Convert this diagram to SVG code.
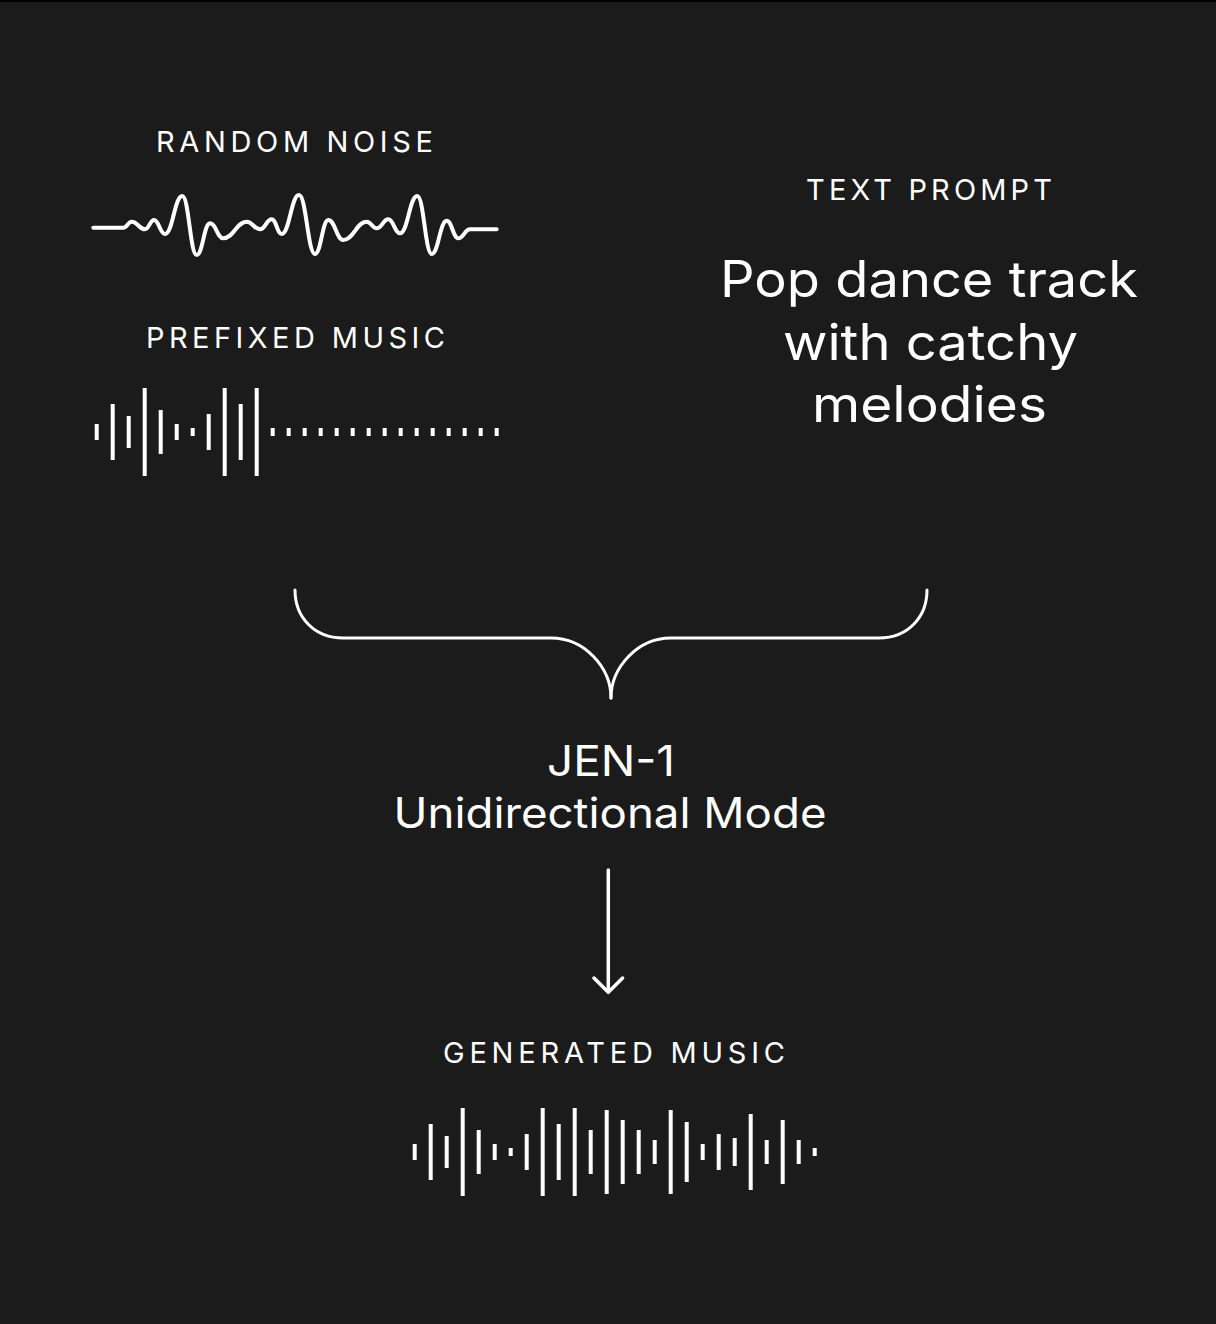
<svg xmlns="http://www.w3.org/2000/svg" width="1216" height="1324" viewBox="0 0 1216 1324">
<style>
.lbl{font-family:Inter,"Liberation Sans",sans-serif;font-size:29px;fill:#fff;text-anchor:middle}
.big{font-family:Inter,"Liberation Sans",sans-serif;font-size:50px;fill:#fff;text-anchor:middle}
.mid{font-family:Inter,"Liberation Sans",sans-serif;font-size:42px;fill:#fff;text-anchor:middle}
.ln{fill:none;stroke:#fff;stroke-linecap:round;stroke-linejoin:round}
.bar{fill:#fff}
</style>
<rect x="0" y="0" width="1216" height="1324" fill="#1b1b1b"/>
<rect x="0" y="0" width="1216" height="2" fill="#000"/>

<g id="random-noise">
<text class="lbl" x="294.5" y="151.5" textLength="277" lengthAdjust="spacing">RANDOM NOISE</text>
<path class="ln" stroke-width="4" d="M93.3 227.7 L123.3 227.7 C127.1 227.7 127.9 221.7 131.7 221.7 C137.7 221.7 139 229.3 145 229.3 C149 229.3 150 220 154 220 C159 220 160 234 165 234 C172.8 234 174.5 196 182.3 196 C188.8 196 190.2 255 196.7 255 C202.7 255 204 223.3 210 223.3 C216 223.3 217.3 238.3 223.3 238.3 C233.8 238.3 236.2 221.7 246.7 221.7 C252.7 221.7 254 229.3 260 229.3 C265.3 229.3 266.4 219.3 271.7 219.3 C276.2 219.3 277.2 234 281.7 234 C289.5 234 291.2 195 299 195 C306.2 195 307.8 254 315 254 C321 254 322.3 220 328.3 220 C335.1 220 336.5 240 343.3 240 C353.8 240 356.2 221.7 366.7 221.7 C371.2 221.7 372.2 228.3 376.7 228.3 C381.9 228.3 383.1 219.3 388.3 219.3 C393.6 219.3 394.7 233.3 400 233.3 C407.8 233.3 409.5 196 417.3 196 C423.8 196 425.2 254 431.7 254 C438.5 254 439.9 220.7 446.7 220.7 C451.9 220.7 453.1 238.3 458.3 238.3 C463.6 238.3 464.7 229.3 470 229.3 L496.7 229.3"/>
</g>

<g id="prefixed-music">
<text class="lbl" x="295.5" y="348" textLength="299" lengthAdjust="spacing">PREFIXED MUSIC</text>
<g class="bar">
<rect x="94.7" y="424" width="4" height="16"/>
<rect x="110.7" y="404" width="4" height="56"/>
<rect x="126.7" y="416" width="4" height="32"/>
<rect x="142.7" y="388" width="4" height="88"/>
<rect x="158.7" y="410" width="4" height="44"/>
<rect x="174.7" y="424" width="4" height="16"/>
<rect x="190.7" y="428" width="4" height="8"/>
<rect x="206.7" y="414" width="4" height="36"/>
<rect x="222.7" y="388" width="4" height="88"/>
<rect x="238.7" y="404" width="4" height="56"/>
<rect x="254.7" y="388" width="4" height="88"/>
<rect x="270.7" y="428" width="4" height="8"/>
<rect x="286.7" y="428" width="4" height="8"/>
<rect x="302.7" y="428" width="4" height="8"/>
<rect x="318.7" y="428" width="4" height="8"/>
<rect x="334.7" y="428" width="4" height="8"/>
<rect x="350.7" y="428" width="4" height="8"/>
<rect x="366.7" y="428" width="4" height="8"/>
<rect x="382.7" y="428" width="4" height="8"/>
<rect x="398.7" y="428" width="4" height="8"/>
<rect x="414.7" y="428" width="4" height="8"/>
<rect x="430.7" y="428" width="4" height="8"/>
<rect x="446.7" y="428" width="4" height="8"/>
<rect x="462.7" y="428" width="4" height="8"/>
<rect x="478.7" y="428" width="4" height="8"/>
<rect x="494.7" y="428" width="4" height="8"/>
</g>
</g>

<g id="text-prompt">
<text class="lbl" x="929" y="200" textLength="246" lengthAdjust="spacing">TEXT PROMPT</text>
<text class="big" x="929" y="297" textLength="418" lengthAdjust="spacingAndGlyphs">Pop dance track</text>
<text class="big" x="930.5" y="359.5" textLength="295" lengthAdjust="spacingAndGlyphs">with catchy</text>
<text class="big" x="929.5" y="422" textLength="235" lengthAdjust="spacingAndGlyphs">melodies</text>
</g>

<g id="jen1">
<text class="mid" x="611" y="776" textLength="128" lengthAdjust="spacingAndGlyphs">JEN-1</text>
<text class="mid" x="610" y="828" textLength="433" lengthAdjust="spacingAndGlyphs">Unidirectional Mode</text>
</g>

<g id="generated-music">
<text class="lbl" x="614" y="1063" textLength="342" lengthAdjust="spacing">GENERATED MUSIC</text>
<g class="bar">
<rect x="412.7" y="1144" width="4" height="16"/>
<rect x="428.7" y="1124" width="4" height="56"/>
<rect x="444.7" y="1136" width="4" height="32"/>
<rect x="460.7" y="1108" width="4" height="88"/>
<rect x="476.7" y="1130" width="4" height="44"/>
<rect x="492.7" y="1144" width="4" height="16"/>
<rect x="508.7" y="1148" width="4" height="8"/>
<rect x="524.7" y="1134" width="4" height="36"/>
<rect x="540.7" y="1108" width="4" height="88"/>
<rect x="556.7" y="1124" width="4" height="56"/>
<rect x="572.7" y="1108" width="4" height="88"/>
<rect x="588.7" y="1130" width="4" height="44"/>
<rect x="604.7" y="1110" width="4" height="84"/>
<rect x="620.7" y="1120" width="4" height="64"/>
<rect x="636.7" y="1130" width="4" height="44"/>
<rect x="652.7" y="1140" width="4" height="24"/>
<rect x="668.7" y="1110" width="4" height="84"/>
<rect x="684.7" y="1122" width="4" height="60"/>
<rect x="700.7" y="1144" width="4" height="16"/>
<rect x="716.7" y="1134" width="4" height="36"/>
<rect x="732.7" y="1138" width="4" height="28"/>
<rect x="748.7" y="1114" width="4" height="76"/>
<rect x="764.7" y="1140" width="4" height="24"/>
<rect x="780.7" y="1120" width="4" height="64"/>
<rect x="796.7" y="1140" width="4" height="24"/>
<rect x="812.7" y="1148" width="4" height="8"/>
</g>
</g>

<g id="connectors">
<path class="ln" stroke-width="3" stroke-linecap="butt" d="M295 590 C295 618 315 638 343 638 L551 638 C585 638 611 668 611 698"/>
<path class="ln" stroke-width="3" stroke-linecap="butt" d="M927 590 C927 618 907 638 879 638 L671 638 C637 638 611 668 611 698"/>
<path class="ln" stroke-width="3.5" stroke-linecap="butt" d="M608.3 870 L608.3 991"/>
<path class="ln" stroke-width="3.5" d="M594 978 L608.3 992.3 L622.6 978"/>
</g>
</svg>
